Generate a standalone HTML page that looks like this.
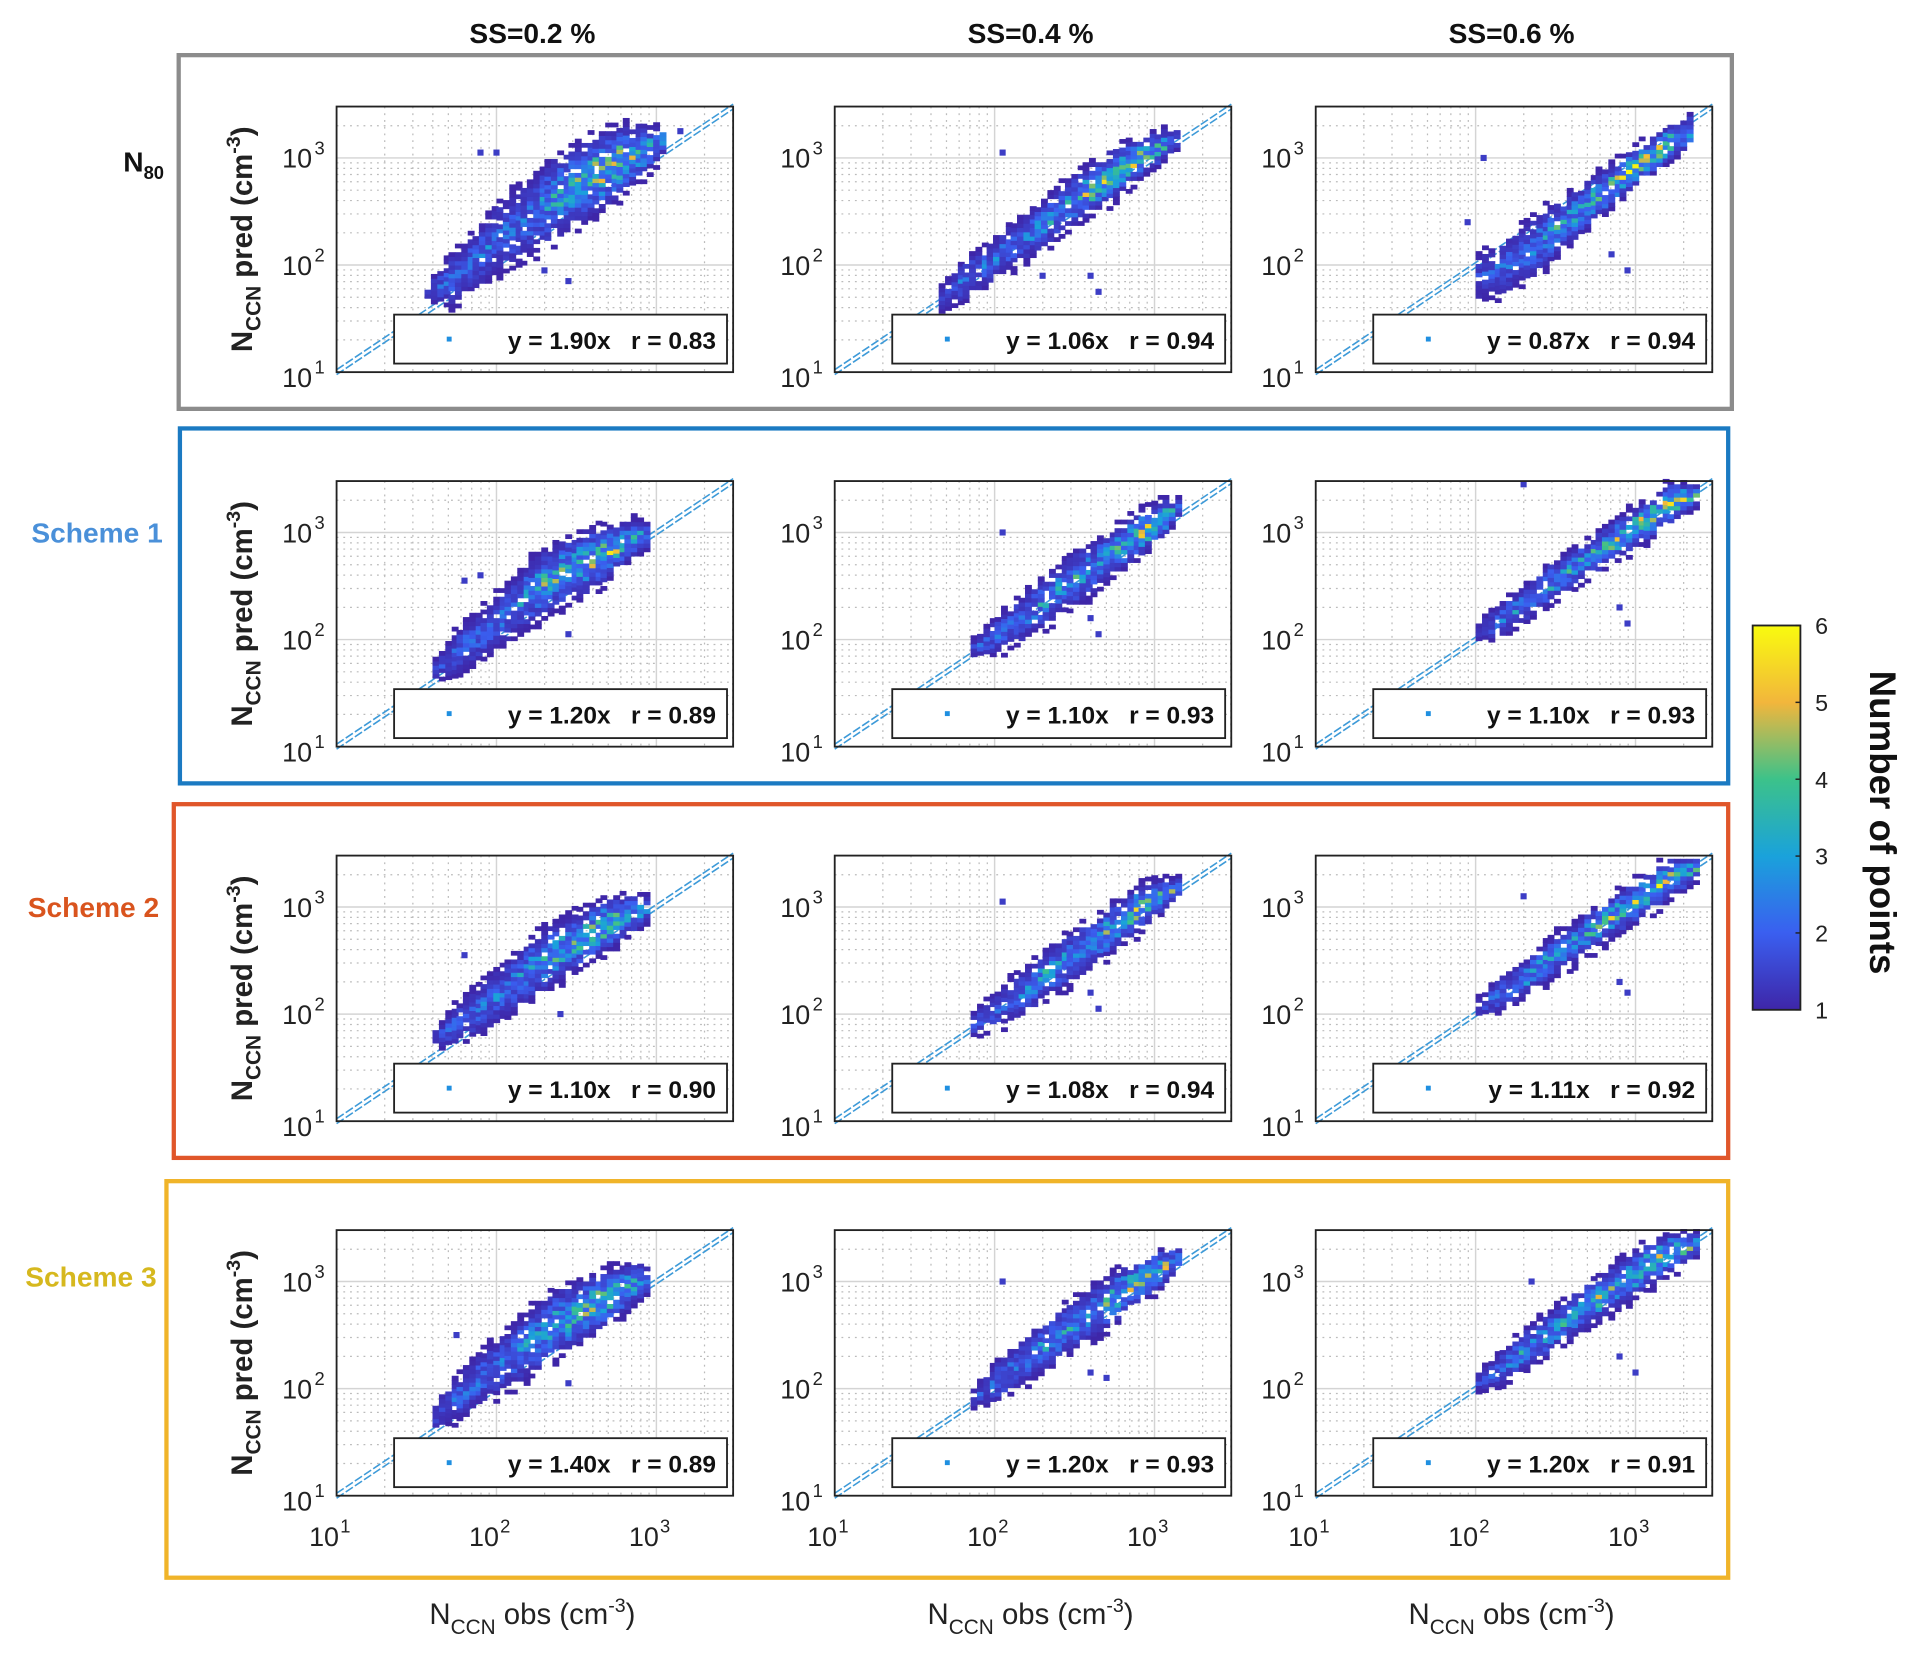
<!DOCTYPE html>
<html><head><meta charset="utf-8"><style>
html,body{margin:0;padding:0;background:#fff;}
svg{display:block;font-family:"Liberation Sans",sans-serif;}
</style></head><body>
<svg id="fig" width="1913" height="1661" viewBox="0 0 1563 1357" xmlns="http://www.w3.org/2000/svg">
<defs>
<linearGradient id="parula" x1="0" y1="1" x2="0" y2="0">
<stop offset="0" stop-color="#3e26a8"/><stop offset="0.2" stop-color="#3a5ff0"/>
<stop offset="0.4" stop-color="#1aa2db"/><stop offset="0.6" stop-color="#3cc28a"/>
<stop offset="0.8" stop-color="#f2b63c"/><stop offset="1" stop-color="#f9fb0e"/>
</linearGradient>
</defs>
<g id="root"></g>
</svg>
<script>
// ---- data ----
const colTitles = ["SS=0.2 %", "SS=0.4 %", "SS=0.6 %"];
const rowLabels = ["N80", "Scheme 1", "Scheme 2", "Scheme 3"];
const slopes = [["1.90","1.06","0.87"],["1.20","1.10","1.10"],["1.10","1.08","1.11"],["1.40","1.20","1.20"]];
const rvals  = [["0.83","0.94","0.94"],["0.89","0.93","0.93"],["0.90","0.94","0.92"],["0.89","0.93","0.91"]];
const xTicks = [1, 2, 3];
const yTicks = [1, 2, 3];
const cbTicks = [1, 2, 3, 4, 5, 6];
// cloud columns: [log10 obs, log10 pred low, log10 pred high, peak count]
const cloud_r0c0 = [[1.55,1.65,1.8,2],[1.7,1.6,2.1,3],[1.85,1.75,2.3,3],[2.0,1.9,2.6,3],[2.15,2.0,2.75,3],[2.3,2.15,2.95,4],[2.45,2.3,3.1,5],[2.6,2.45,3.2,6],[2.75,2.6,3.3,6],[2.9,2.8,3.3,5],[3.05,3.05,3.3,3]];
const cloud_r0c1 = [[1.65,1.55,1.8,2],[1.8,1.65,2.05,3],[1.95,1.8,2.2,3],[2.1,1.95,2.4,3],[2.25,2.1,2.55,4],[2.4,2.25,2.75,4],[2.55,2.4,2.9,5],[2.7,2.55,3.05,6],[2.85,2.75,3.15,6],[3.0,2.9,3.25,5],[3.15,3.1,3.25,3]];
const cloud_r0c2 = [[2.0,1.65,2.1,2],[2.15,1.7,2.2,3],[2.3,1.8,2.4,3],[2.45,2.0,2.55,4],[2.6,2.2,2.7,4],[2.75,2.4,2.85,5],[2.9,2.6,3.0,6],[3.05,2.8,3.15,6],[3.2,2.95,3.3,6],[3.35,3.1,3.4,4]];
const cloud_r1c0 = [[1.6,1.6,1.8,2],[1.75,1.65,2.1,3],[1.9,1.8,2.3,3],[2.05,1.95,2.5,3],[2.2,2.1,2.75,4],[2.35,2.25,2.9,5],[2.5,2.35,3.0,5],[2.65,2.5,3.05,6],[2.8,2.7,3.1,5],[2.95,2.85,3.1,3]];
const cloud_r1c1 = [[1.85,1.8,2.0,2],[2.0,1.85,2.2,3],[2.15,1.95,2.4,3],[2.3,2.1,2.6,4],[2.45,2.25,2.8,4],[2.6,2.4,2.9,4],[2.75,2.6,3.05,5],[2.9,2.75,3.2,6],[3.05,2.95,3.3,5],[3.15,3.15,3.3,3]];
const cloud_r1c2 = [[2.0,1.95,2.15,2],[2.15,2.0,2.35,3],[2.3,2.15,2.5,4],[2.45,2.3,2.7,4],[2.6,2.45,2.85,4],[2.75,2.6,3.0,5],[2.9,2.75,3.15,5],[3.05,2.9,3.3,6],[3.2,3.05,3.45,6],[3.4,3.25,3.45,4]];
const cloud_r2c0 = [[1.6,1.65,1.85,2],[1.75,1.7,2.1,3],[1.9,1.8,2.3,3],[2.05,1.95,2.5,3],[2.2,2.1,2.7,4],[2.35,2.25,2.85,5],[2.5,2.4,2.95,5],[2.65,2.55,3.05,6],[2.8,2.7,3.1,5],[2.95,2.85,3.1,3]];
const cloud_r2c1 = [[1.85,1.75,2.0,2],[2.0,1.85,2.2,3],[2.15,1.95,2.4,3],[2.3,2.1,2.6,4],[2.45,2.25,2.75,4],[2.6,2.4,2.9,4],[2.75,2.6,3.05,5],[2.9,2.75,3.2,6],[3.05,2.95,3.25,5],[3.15,3.1,3.25,3]];
const cloud_r2c2 = [[2.0,1.95,2.15,2],[2.15,2.0,2.35,3],[2.3,2.15,2.5,4],[2.45,2.3,2.7,4],[2.6,2.45,2.85,4],[2.75,2.6,3.0,5],[2.9,2.75,3.15,5],[3.05,2.9,3.3,6],[3.2,3.05,3.45,6],[3.4,3.25,3.45,4]];
const cloud_r3c0 = [[1.6,1.6,1.85,2],[1.75,1.7,2.15,3],[1.9,1.85,2.35,3],[2.05,1.95,2.55,3],[2.2,2.1,2.75,4],[2.35,2.25,2.9,5],[2.5,2.4,3.0,5],[2.65,2.55,3.1,6],[2.8,2.7,3.15,5],[2.95,2.9,3.15,3]];
const cloud_r3c1 = [[1.85,1.8,2.0,2],[2.0,1.85,2.25,3],[2.15,2.0,2.45,3],[2.3,2.15,2.65,4],[2.45,2.3,2.8,4],[2.6,2.45,2.95,4],[2.75,2.6,3.1,5],[2.9,2.8,3.2,6],[3.05,2.95,3.3,5],[3.15,3.1,3.3,3]];
const cloud_r3c2 = [[2.0,1.95,2.15,2],[2.15,2.0,2.35,3],[2.3,2.15,2.55,4],[2.45,2.3,2.7,4],[2.6,2.45,2.9,4],[2.75,2.6,3.05,5],[2.9,2.75,3.2,5],[3.05,2.9,3.35,6],[3.2,3.05,3.45,6],[3.4,3.25,3.45,4]];
// outliers: [log10 obs, log10 pred]
const out_r0c0 = [[1.9,3.05],[2.0,3.05],[2.45,1.85],[2.3,1.95],[3.15,3.25]];
const out_r0c1 = [[2.05,3.05],[2.6,1.9],[2.65,1.75],[2.3,1.9]];
const out_r0c2 = [[1.95,2.4],[2.05,3.0],[2.4,2.0],[2.95,1.95],[2.85,2.1]];
const out_r1c0 = [[1.8,2.55],[1.9,2.6],[2.45,2.05]];
const out_r1c1 = [[2.05,3.0],[2.6,2.2],[2.65,2.05]];
const out_r1c2 = [[2.3,3.45],[2.9,2.3],[2.95,2.15]];
const out_r2c0 = [[1.8,2.55],[2.4,2.0]];
const out_r2c1 = [[2.05,3.05],[2.6,2.2],[2.65,2.05]];
const out_r2c2 = [[2.3,3.1],[2.9,2.3],[2.95,2.2]];
const out_r3c0 = [[1.75,2.5],[2.45,2.05]];
const out_r3c1 = [[2.05,3.0],[2.6,2.15],[2.7,2.1]];
const out_r3c2 = [[2.35,3.0],[2.9,2.3],[3.0,2.15]];
const clouds = [[cloud_r0c0,cloud_r0c1,cloud_r0c2],[cloud_r1c0,cloud_r1c1,cloud_r1c2],[cloud_r2c0,cloud_r2c1,cloud_r2c2],[cloud_r3c0,cloud_r3c1,cloud_r3c2]];
const outs = [[out_r0c0,out_r0c1,out_r0c2],[out_r1c0,out_r1c1,out_r1c2],[out_r2c0,out_r2c1,out_r2c2],[out_r3c0,out_r3c1,out_r3c2]];

// ---- layout ----
const NS = "http://www.w3.org/2000/svg";
const root = document.getElementById("root");
const colX = [275, 682, 1075], axW = 324;
const rowY = [87, 393, 699, 1005], axH = 217;
const LMIN = 1, LMAX = 3.48;
const frames = [[146,45,1269,289,"#8c8c8c"],[147,350,1265,290,"#1b7ac2"],[142,657,1270,289,"#e0562a"],[136,965,1276,324,"#f0b429"]];
const labelColors = ["#111","#4a90d9","#d9541e","#d6b81e"];
const cmapStops = [[0,[62,38,168]],[0.2,[58,95,240]],[0.4,[26,162,219]],[0.6,[60,194,138]],[0.8,[242,182,60]],[1,[249,251,14]]];

function el(tag, attrs, parent){ const e=document.createElementNS(NS,tag); for(const k in attrs) e.setAttribute(k,attrs[k]); (parent||root).appendChild(e); return e; }
function cmap(v){ let t=Math.max(0,Math.min(1,(v-1)/5)); for(let i=1;i<cmapStops.length;i++){ if(t<=cmapStops[i][0]){ const a=cmapStops[i-1],b=cmapStops[i]; const f=(t-a[0])/(b[0]-a[0]); return "rgb("+a[1].map((c,j)=>Math.round(c+(b[1][j]-c)*f)).join(",")+")"; } } return "rgb(249,251,14)"; }
// deterministic texture hash (styling only)
function hash(i,j,k){ let h=(i*374761393 + j*668265263 + k*2246822519)>>>0; h=((h^(h>>>13))*1274126177)>>>0; return ((h^(h>>>16))>>>0)/4294967296; }

for (let r=0;r<4;r++){
  const f=frames[r];
  const fr=el("rect",{x:f[0],y:f[1],width:f[2],height:f[3],fill:"none",stroke:f[4],"stroke-width":3.5});
  
  
  const lbl=el("text",{x:[134,133,130,128][r],y:[140,443,749,1051][r],"text-anchor":"end","font-size":23,"font-weight":"bold",fill:labelColors[r]});
  
  
  if(r===0){ lbl.textContent="N"; const s=el("tspan",{"font-size":15,dy:6},lbl); s.textContent="80"; }
  else lbl.textContent=rowLabels[r];
  for (let c=0;c<3;c++){
    const X0=colX[c], Y0=rowY[r];
    const sx=v=>X0+(v-LMIN)/(LMAX-LMIN)*axW;
    const sy=v=>Y0+axH-(v-LMIN)/(LMAX-LMIN)*axH;
    const g=el("g",{});
    
    
    el("rect",{x:X0,y:Y0,width:axW,height:axH,fill:"#fff"},g);
    for(let d=1;d<=3;d++) for(let m=2;m<=9;m++){ const lv=d+Math.log10(m); if(lv>=LMAX) continue;
      el("line",{x1:sx(lv),x2:sx(lv),y1:Y0,y2:Y0+axH,stroke:"#bbb","stroke-width":1,"stroke-dasharray":"1.5 4"},g);
      el("line",{x1:X0,x2:X0+axW,y1:sy(lv),y2:sy(lv),stroke:"#bbb","stroke-width":1,"stroke-dasharray":"1.5 4"},g); }
    xTicks.forEach(t=>{ if(t>LMIN) el("line",{x1:sx(t),x2:sx(t),y1:Y0,y2:Y0+axH,stroke:"#d4d4d4","stroke-width":1.2},g); });
    yTicks.forEach(t=>{ if(t>LMIN) el("line",{x1:X0,x2:X0+axW,y1:sy(t),y2:sy(t),stroke:"#d4d4d4","stroke-width":1.2},g); });
    for(const off of [-2,2]){
      const ln=el("line",{x1:sx(LMIN),y1:sy(LMIN)+off,x2:sx(LMAX),y2:sy(LMAX)+off,stroke:"#3d9ad8","stroke-width":1.3,"stroke-dasharray":"7 2"},g);
      
      
    }
    // density cloud
    const cl=clouds[r][c], step=0.04;
    for(let i=0;i<cl.length-1;i++){
      const a=cl[i], b=cl[i+1];
      let xi=0;
      for(let x=a[0]; x<b[0]-1e-6; x+=step, xi++){
        const f2=(x-a[0])/(b[0]-a[0]);
        const lo=a[1]+(b[1]-a[1])*f2, hi=a[2]+(b[2]-a[2])*f2, pk=a[3]+(b[3]-a[3])*f2;
        const mid=(lo+hi)/2, half=Math.max((hi-lo)/2,0.02);
        let yi=0;
        for(let y=lo-step;y<=hi+step+1e-6;y+=step, yi++){
          const t=Math.abs(y-mid)/half;
          const h=hash(r*3+c+1, i*50+xi, yi);
          if(t>0.75 && h>(1.3-t)*1.4) continue;
          if(t<=0.75 && h<0.06) continue;
          const core=Math.pow(Math.max(0,1-t),1.3);
          const h2=hash(yi+7, i*50+xi, r*3+c+11);
          const v=1+(pk-1)*core*(0.25+0.9*h2*h2);
          const cell=el("rect",{x:sx(x),y:sy(y+step),width:sx(x+step)-sx(x)+0.4,height:sy(y)-sy(y+step)+0.4,fill:cmap(v)},g);
          
          
        }
      }
    }
    outs[r][c].forEach(p=>{
      const o=el("rect",{x:sx(p[0])-2.5,y:sy(p[1])-2.5,width:5,height:5,fill:cmap(1.4)},g);
      
      
    });
    el("rect",{x:X0,y:Y0,width:axW,height:axH,fill:"none",stroke:"#222","stroke-width":1.5},g);
    const lg=el("g",{},g);
    
    
    el("rect",{x:X0+47,y:Y0+axH-47,width:axW-52,height:40,fill:"#fff",stroke:"#222","stroke-width":1.5},lg);
    el("rect",{x:X0+90,y:Y0+axH-29,width:4,height:4,fill:"#1f8fe0"},lg);
    const lt=el("text",{x:X0+axW-14,y:Y0+axH-19,"text-anchor":"end","font-size":20,"font-weight":"bold",fill:"#111"},lg);
    lt.textContent="y = "+slopes[r][c]+"x\u00a0\u00a0\u00a0r = "+rvals[r][c];
    yTicks.forEach(t=>{
      const tx=el("text",{x:X0-20,y:sy(t)+8+(t===1?4:0),"text-anchor":"end","font-size":22,fill:"#222"},g);
      tx.textContent="10";
      const s=el("text",{x:X0-18,y:sy(t)-3+(t===1?4:0),"font-size":15,fill:"#222"},g); s.textContent=String(t);
    });
    if(c===0){
      const yt=el("text",{transform:"translate(206,"+(Y0+axH/2)+") rotate(-90)","text-anchor":"middle","font-size":24,"font-weight":"bold",fill:"#222"});
      
      
      yt.innerHTML='N<tspan font-size="17" dy="7">CCN</tspan><tspan dy="-7"> pred (cm</tspan><tspan font-size="16" dy="-10">-3</tspan><tspan dy="10">)</tspan>';
    }
    if(r===3){
      xTicks.forEach(t=>{
        const tx=el("text",{x:sx(t)+2,y:1263,"text-anchor":"end","font-size":22,fill:"#222"},g); tx.textContent="10";
        const s=el("text",{x:sx(t)+3,y:1252,"font-size":15,fill:"#222"},g); s.textContent=String(t);
      });
    }
  }
}
colTitles.forEach((t,c)=>{
  const tt=el("text",{x:colX[c]+axW/2-2,y:35,"text-anchor":"middle","font-size":23,"font-weight":"bold",fill:"#111"});
  
  
  tt.textContent=t;
  const xt=el("text",{x:colX[c]+axW/2-2,y:1327,"text-anchor":"middle","font-size":24,fill:"#222"});
  
  
  xt.innerHTML='N<tspan font-size="17" dy="8">CCN</tspan><tspan dy="-8"> obs (cm</tspan><tspan font-size="16" dy="-10">-3</tspan><tspan dy="10">)</tspan>';
});
const cbX=1432, cbY=511, cbW=39, cbH=314;
const cb=el("rect",{x:cbX,y:cbY,width:cbW,height:cbH,fill:"url(#parula)",stroke:"#222","stroke-width":1.5});


const cy=v=>cbY+cbH-(v-1)/5*cbH;
cbTicks.forEach(v=>{
  el("line",{x1:cbX+cbW-4,x2:cbX+cbW,y1:cy(v),y2:cy(v),stroke:"#222","stroke-width":1.2});
  const t=el("text",{x:cbX+cbW+12,y:cy(v)+7,"font-size":19,fill:"#222"});
  
  
  t.textContent=String(v);
});
const cbt=el("text",{transform:"translate(1528,672) rotate(90)","text-anchor":"middle","font-size":30,"font-weight":"bold",fill:"#111"});


cbt.textContent="Number of points";
</script>
</body></html>
